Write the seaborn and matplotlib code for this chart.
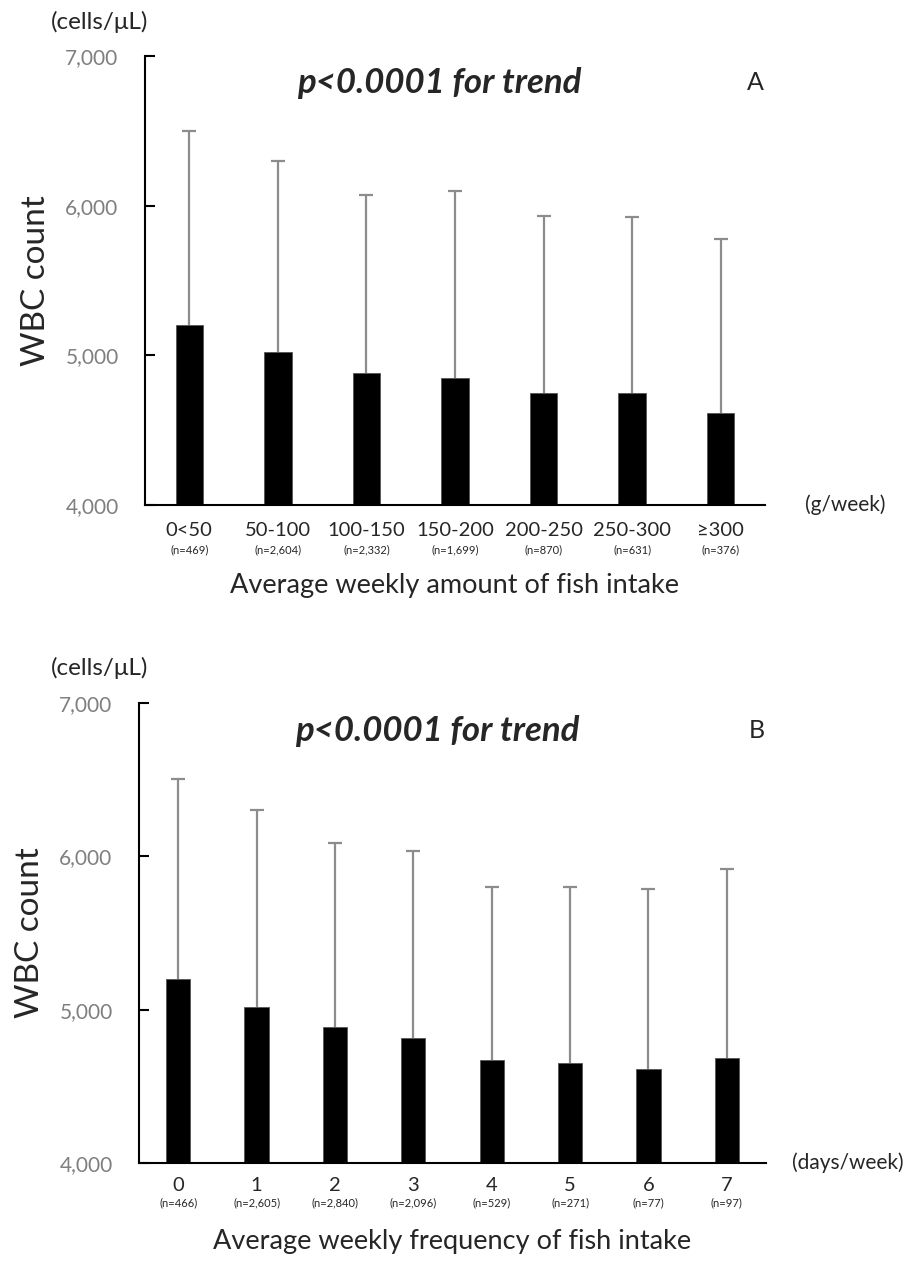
import matplotlib
matplotlib.use("Agg")
import matplotlib.pyplot as plt
import matplotlib.transforms as mtransforms
import seaborn as sns
import pandas as pd

# Panel A: weekly amount of fish intake
amount_cats = ["0<50", "50-100", "100-150", "150-200", "200-250", "250-300", "≥300"]
amount_n = ["(n=469)", "(n=2,604)", "(n=2,332)", "(n=1,699)", "(n=870)", "(n=631)", "(n=376)"]
amount_mean = [5200, 5020, 4885, 4850, 4745, 4745, 4615]
amount_sd = [1300, 1280, 1185, 1250, 1185, 1180, 1165]

# Panel B: weekly frequency of fish intake
freq_cats = ["0", "1", "2", "3", "4", "5", "6", "7"]
freq_n = ["(n=466)", "(n=2,605)", "(n=2,840)", "(n=2,096)", "(n=529)", "(n=271)", "(n=77)", "(n=97)"]
freq_mean = [5200, 5020, 4890, 4815, 4670, 4650, 4615, 4685]
freq_sd = [1305, 1280, 1195, 1220, 1130, 1150, 1170, 1235]

y_ticks = [4000, 5000, 6000, 7000]

sns.set_theme(style="white")
plt.rcParams["font.family"] = ["Lato", "DejaVu Sans"]

W, H = 908, 1261
fig = plt.figure(figsize=(W / 100, H / 100), dpi=100)


def panel(rect, cats, ns, means, sds, letter, unit, xlabel, top_px, xlab_y,
          cat_pad, n_off):
    l, t, r, b = rect
    ax = fig.add_axes([l / W, 1 - b / H, (r - l) / W, (b - t) / H])
    df = pd.DataFrame({"cat": cats, "wbc": means})
    sns.barplot(data=df, x="cat", y="wbc", order=cats, color="black",
                width=0.31, edgecolor="#555555", linewidth=0.6, ax=ax,
                saturation=1)
    # upper-only SD whiskers
    _, caps, _ = ax.errorbar(range(len(cats)), means,
                             yerr=[[0] * len(sds), sds], fmt="none",
                             ecolor="#8c8c8c", elinewidth=1.6, capsize=5,
                             capthick=1.6, zorder=1)
    caps[0].set_visible(False)
    ax.set_ylim(4000, 7000)
    ax.set_xlim(-0.5, len(cats) - 0.5)
    ax.set_yticks(y_ticks)
    ax.set_yticklabels([f"{v:,}" for v in y_ticks], color="#7f7f7f", fontsize=15)
    ax.tick_params(axis="y", direction="in", length=7, width=1.5, color="black",
                   left=True, pad=19)
    ax.tick_params(axis="x", length=0, pad=cat_pad, labelsize=14.5)
    for s in ["top", "right"]:
        ax.spines[s].set_visible(False)
    ax.spines["left"].set_color("black")
    ax.spines["left"].set_linewidth(1.5)
    ax.spines["bottom"].set_color("black")
    ax.spines["bottom"].set_linewidth(1.5)
    ax.set_ylabel("WBC count", fontsize=24, labelpad=10)
    ax.set_xlabel(xlabel, fontsize=19.5)
    ax.xaxis.set_label_coords(0.5, xlab_y)
    ax.xaxis.label.set_verticalalignment("center")
    trans = mtransforms.blended_transform_factory(ax.transData, ax.transAxes)
    for i, n in enumerate(ns):
        ax.annotate(n, xy=(i, 0), xycoords=trans, xytext=(0, n_off),
                    textcoords="offset points", ha="center", va="center",
                    fontsize=8)
    ax.text(0.475, 0.94, "p<0.0001 for trend", transform=ax.transAxes,
            ha="center", va="center", fontsize=25, fontweight="bold",
            fontstyle="italic")
    ax.text(0.985, 0.94, letter, transform=ax.transAxes, ha="center",
            va="center", fontsize=18)
    ax.text(1.13, 0.0, unit, transform=ax.transAxes, ha="center",
            va="center", fontsize=15)
    fig.text(100 / W, 1 - top_px / H, "(cells/μL)", ha="center", va="center",
             fontsize=17.5)
    return ax


panel((145, 56, 765, 505), amount_cats, amount_n, amount_mean, amount_sd,
      "A", "(g/week)", "Average weekly amount of fish intake", 22, -0.18,
      12, -32)
panel((139, 703, 766, 1163), freq_cats, freq_n, freq_mean, freq_sd,
      "B", "(days/week)", "Average weekly frequency of fish intake", 668, -0.17,
      10, -29)

fig.savefig("out.png", dpi=100)
